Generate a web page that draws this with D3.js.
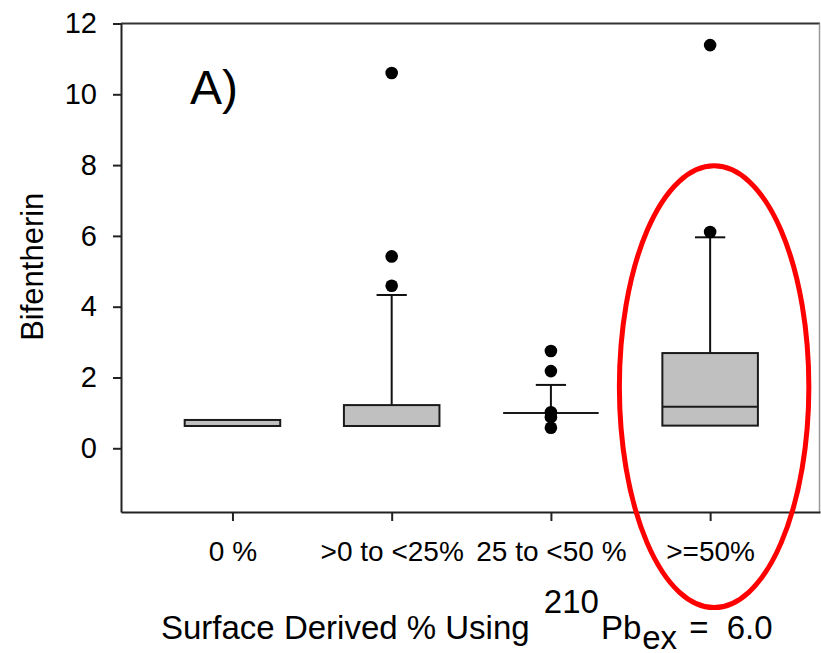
<!DOCTYPE html>
<html>
<head>
<meta charset="utf-8">
<script src="https://cdn.jsdelivr.net/npm/d3@7"></script>
<style>
  body { margin: 0; background: #fff; }
  text { font-family: "Liberation Sans", Arial, sans-serif; fill: #000; }
</style>
</head>
<body>
<svg id="chart" width="821" height="653"></svg>
<script>
// categories along the x axis
const categories = ["0 %", ">0 to <25%", "25 to <50 %", ">=50%"];

// box statistics
const q1 = [0.63, 0.63, 1.0, 0.64];
const medians = [0.63, 0.63, 1.0, 1.17];
const q3 = [0.8, 1.22, 1.0, 2.69];
const whiskerHigh = [null, 4.33, 1.79, 5.96];
const outliers = [[], [10.6, 5.42, 4.59], [2.75, 2.18, 1.02, 0.88, 0.58], [11.39, 6.11]];

const yTicks = [0, 2, 4, 6, 8, 10, 12];

// red ellipse drawn round the last group
const highlight = { center: 4.025, halfWidth: 0.595, low: -4.5, high: 7.98 };

const svg = d3.select("#chart");

const x = d3.scaleLinear().domain([0.3, 4.69]).range([121, 820]);
const y = d3.scaleLinear().domain([-1.8, 12]).range([512, 23.5]);

const boxW = 0.6;
const capW = 0.19;

// frame (top and right)
svg.append("line")
  .attr("x1", x.range()[0]).attr("x2", x.range()[1])
  .attr("y1", y(12)).attr("y2", y(12))
  .attr("stroke", "#333").attr("stroke-width", 2);
svg.append("line")
  .attr("x1", x.range()[1] - 0.5).attr("x2", x.range()[1] - 0.5)
  .attr("y1", y(12)).attr("y2", y.range()[0])
  .attr("stroke", "#999").attr("stroke-width", 1.5);

// axes
let yAxis = svg.append("g")
  .attr("transform", `translate(${x.range()[0]},0)`)
  .call(d3.axisLeft(y).tickValues(yTicks).tickSize(8).tickSizeOuter(0).tickPadding(16));
yAxis.select(".domain").attr("stroke", "#222").attr("stroke-width", 2);
yAxis.selectAll(".tick line").attr("stroke", "#222").attr("stroke-width", 2);
yAxis.selectAll(".tick text").attr("font-size", 29).attr("font-family", "Liberation Sans, Arial, sans-serif");

let xAxis = svg.append("g")
  .attr("transform", `translate(0,${y.range()[0]})`)
  .call(d3.axisBottom(x).tickValues([1, 2, 3, 4]).tickFormat((d) => categories[d - 1])
    .tickSize(9).tickSizeOuter(0).tickPadding(20));
xAxis.select(".domain").attr("stroke", "#222").attr("stroke-width", 2);
xAxis.selectAll(".tick line").attr("stroke", "#222").attr("stroke-width", 2);
xAxis.selectAll(".tick text").attr("font-size", 28).attr("font-family", "Liberation Sans, Arial, sans-serif");

// boxes
const groups = categories.map((c, i) => ({
  pos: i + 1,
  q1: q1[i],
  med: medians[i],
  q3: q3[i],
  hi: whiskerHigh[i],
  out: outliers[i],
}));

let g = svg.append("g");

groups.forEach((d) => {
  if (d.hi != null) {
    g.append("line")
      .attr("x1", x(d.pos)).attr("x2", x(d.pos))
      .attr("y1", y(d.q3)).attr("y2", y(d.hi))
      .attr("stroke", "#111").attr("stroke-width", 2);
    g.append("line")
      .attr("x1", x(d.pos - capW / 2)).attr("x2", x(d.pos + capW / 2))
      .attr("y1", y(d.hi)).attr("y2", y(d.hi))
      .attr("stroke", "#111").attr("stroke-width", 2);
  }
  g.append("rect")
    .attr("x", x(d.pos - boxW / 2))
    .attr("width", x(d.pos + boxW / 2) - x(d.pos - boxW / 2))
    .attr("y", y(d.q3))
    .attr("height", y(d.q1) - y(d.q3))
    .attr("fill", "#c0c0c0")
    .attr("stroke", "#1a1a1a")
    .attr("stroke-width", 2);
  g.append("line")
    .attr("x1", x(d.pos - boxW / 2)).attr("x2", x(d.pos + boxW / 2))
    .attr("y1", y(d.med)).attr("y2", y(d.med))
    .attr("stroke", "#1a1a1a").attr("stroke-width", 2);
  g.selectAll(null)
    .data(d.out)
    .enter()
    .append("circle")
    .attr("cx", x(d.pos))
    .attr("cy", (v) => y(v))
    .attr("r", 6.3)
    .attr("fill", "#000");
});

// panel letter
svg.append("text")
  .attr("x", 190).attr("y", 104)
  .attr("font-size", 48)
  .text("A)");

// y title
svg.append("text")
  .attr("transform", `translate(43,${(y(-1.8) + y(12)) / 2 - 1}) rotate(-90)`)
  .attr("text-anchor", "middle")
  .attr("font-size", 31)
  .text("Bifentherin");

// x title with super/subscripts
let xt = svg.append("text")
  .attr("x", 161).attr("y", 639)
  .attr("font-size", 33);
xt.append("tspan").text("Surface Derived % Using ");
xt.append("tspan").attr("dy", -26).attr("dx", 5).text("210");
xt.append("tspan").attr("dy", 26).attr("dx", 2).text("Pb");
xt.append("tspan").attr("dy", 10).attr("dx", 1).text("ex");
xt.append("tspan").attr("dy", -10).attr("dx", 12).text("=\u00a0\u00a06.0");

// highlight ellipse
svg.append("ellipse")
  .attr("cx", x(highlight.center))
  .attr("cy", (y(highlight.low) + y(highlight.high)) / 2)
  .attr("rx", x(highlight.center + highlight.halfWidth) - x(highlight.center))
  .attr("ry", (y(highlight.low) - y(highlight.high)) / 2)
  .attr("fill", "none")
  .attr("stroke", "#ff0000")
  .attr("stroke-width", 5);
</script>
</body>
</html>
